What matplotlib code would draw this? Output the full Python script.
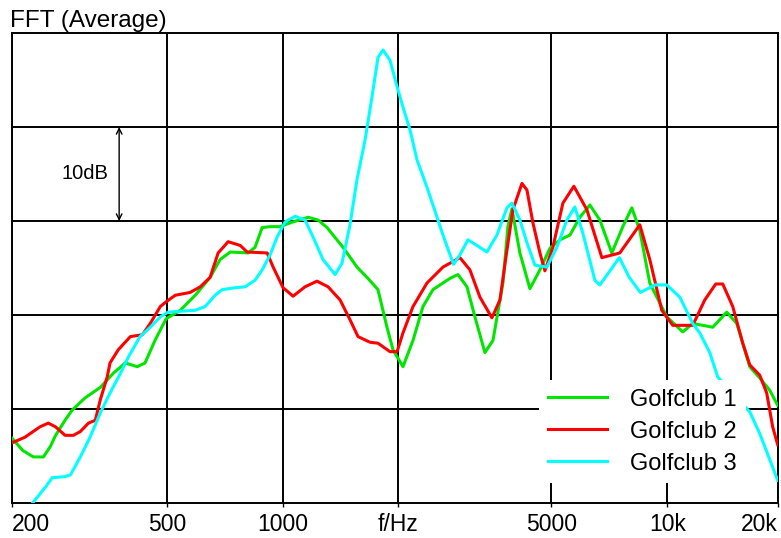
import matplotlib
matplotlib.use('Agg')
import matplotlib.pyplot as plt

# frequencies (Hz) and levels (dB)
freq_1 = [198, 211, 225, 239, 249, 257, 272, 284, 307, 336, 363, 390, 419, 439,
          466, 481, 498, 542, 593, 648, 688, 731, 814, 848, 885, 928, 985, 1046,
          1165, 1237, 1305, 1436, 1561, 1658, 1770, 1868, 1937, 2056, 2183, 2317,
          2460, 2724, 2857, 3015, 3162, 3357, 3523, 3739, 3852, 3946, 4139, 4395,
          4666, 4954, 5259, 5584, 5927, 6292, 6680, 7175, 7663, 8087, 8483, 9006,
          9970, 10972, 11648, 13130, 14275, 15155, 15898, 16381, 17389, 18461, 19364]
level_1 = [6.9, 5.6, 4.9, 4.9, 6.0, 7.2, 8.8, 9.9, 11.2, 12.3, 13.8, 14.9, 14.5, 14.9,
           17.3, 18.4, 19.6, 20.5, 22.1, 24.0, 25.9, 26.7, 26.6, 27.2, 29.3, 29.4, 29.4, 29.8,
           30.4, 30.1, 29.3, 27.2, 25.1, 24.0, 22.7, 18.7, 16.3, 14.5, 17.3, 20.9,
           22.7, 23.9, 24.3, 23.0, 19.8, 16.0, 17.3, 23.4, 29.4, 31.3, 26.6, 22.8,
           24.8, 27.1, 28.0, 28.5, 30.4, 31.7, 30.1, 26.6, 29.4, 31.4, 29.0, 23.4,
           19.8, 18.2, 19.1, 18.7, 20.3, 19.1, 16.3, 14.5, 13.3, 12.0, 10.4]

freq_2 = [198, 214, 234, 246, 257, 272, 286, 298, 313, 326, 336, 350, 356, 374,
          402, 432, 453, 481, 498, 526, 575, 611, 648, 680, 722, 776, 809, 912,
          945, 1003, 1065, 1144, 1229, 1313, 1411, 1497, 1571, 1688, 1770, 1902,
          1984, 2056, 2183, 2373, 2612, 2891, 3069, 3258, 3501, 3673, 3830, 3970,
          4190, 4317, 4475, 4666, 4807, 5042, 5354, 5717, 6180, 6761, 7527, 8483,
          9006, 9676, 10335, 11648, 12516, 13366, 13938, 14797, 15709, 16381,
          17389, 18133, 18793, 19364]
level_2 = [6.4, 7.0, 8.1, 8.5, 8.1, 7.2, 7.2, 7.6, 8.5, 8.8, 11.0, 13.4, 14.9, 16.3,
           17.7, 17.9, 19.1, 20.9, 21.4, 22.1, 22.4, 23.0, 24.0, 26.6, 27.8, 27.4, 26.7, 26.6,
           25.1, 22.9, 22.0, 23.0, 23.6, 23.0, 21.6, 19.5, 17.7, 17.1, 17.0, 16.1,
           16.1, 18.1, 20.9, 23.4, 25.1, 26.1, 24.8, 21.9, 19.7, 21.6, 26.9, 31.2,
           34.0, 33.3, 29.8, 26.6, 24.7, 27.2, 31.9, 33.7, 31.2, 26.1, 26.6, 29.6,
           25.9, 20.5, 18.9, 18.9, 21.6, 23.3, 23.3, 20.9, 17.0, 14.7,
           13.6, 11.7, 8.1, 6.2]

freq_3 = [224, 242, 252, 272, 281, 298, 316, 336, 356, 379, 397, 426, 453, 481,
          504, 542, 593, 629, 668, 697, 753, 799, 848, 885, 928, 968, 1015, 1078,
          1144, 1200, 1274, 1369, 1427, 1497, 1561, 1638, 1708, 1770, 1824, 1902,
          1984, 2056, 2144, 2236, 2373, 2460, 2612, 2781, 2891, 3033, 3200, 3398,
          3607, 3830, 3946, 4139, 4317, 4528, 4864, 5164, 5483, 5751, 6033, 6483,
          6680, 7505, 7967, 8508, 9307, 9970, 10777, 11648, 12146, 12895, 13527,
          16381, 17389, 18793, 19364]
level_3 = [0.0, 1.7, 2.7, 2.8, 3.0, 4.9, 7.0, 9.6, 11.7, 13.8, 15.5, 17.7, 18.7, 19.8,
           20.3, 20.4, 20.5, 20.9, 22.1, 22.7, 22.9, 23.0, 23.7, 24.8, 26.4, 28.3, 29.9, 30.5,
           30.1, 28.3, 25.9, 24.3, 25.5, 29.6, 34.4, 38.6, 43.2, 47.4, 48.2, 47.1,
           44.3, 42.1, 39.7, 36.5, 33.6, 31.7, 28.5, 25.4, 26.4, 28.0, 27.4, 26.7,
           28.5, 31.4, 31.9, 30.1, 27.7, 25.3, 25.1, 27.2, 30.1, 31.5, 28.7, 23.7,
           23.2, 26.1, 24.0, 22.4, 23.2, 23.2, 21.9, 19.1, 18.1, 16.0, 13.4,
           9.7, 7.4, 3.8, 2.4]

series_names = ['Golfclub 1', 'Golfclub 2', 'Golfclub 3']
series_colors = ['#00e600', '#ff0000', '#00ffff']

tick_pos = [198, 500, 1000, 2000, 5000, 10000, 19400]
tick_labels = ['200', '500', '1000', 'f/Hz', '5000', '10k', '20k']


def draw_fft():
    plt.rcParams['font.family'] = ['Liberation Sans', 'DejaVu Sans']
    fig = plt.figure(figsize=(7.81, 5.38), dpi=100)
    ax = fig.add_axes([12 / 781, 1 - 503 / 538, 766 / 781, 470 / 538])

    for f, lv, name, c in zip([freq_1, freq_2, freq_3],
                              [level_1, level_2, level_3],
                              series_names, series_colors):
        ax.plot(f, lv, color=c, lw=2.2, label=name, zorder=3)

    ax.set_xscale('log')
    ax.set_xlim(198, 19400)
    ax.set_ylim(0, 50)
    ax.set_xticks(tick_pos)
    ax.set_xticklabels(tick_labels)
    ax.minorticks_off()
    ax.set_yticks([10, 20, 30, 40])
    ax.tick_params(axis='y', left=False, labelleft=False)
    ax.tick_params(axis='x', length=3, width=1, pad=4, labelsize=16.5,
                   color='black')
    lbls = ax.get_xticklabels()
    lbls[0].set_ha('left')
    lbls[-1].set_ha('right')
    ax.grid(True, color='black', lw=1.4, zorder=1)
    for s in ax.spines.values():
        s.set_color('black')
        s.set_linewidth(1.4)

    # 10 dB scale marker
    ax.annotate('', xy=(376, 40), xytext=(376, 30),
                arrowprops=dict(arrowstyle='<->', color='black', lw=1,
                                shrinkA=0, shrinkB=0))
    ax.text(307, 35, '10dB', ha='center', va='center', fontsize=14.5)

    fig.text(10 / 781, 1 - 27 / 538, 'FFT (Average)', ha='left',
             va='baseline', fontsize=17.5)

    ax.legend(loc='upper left', bbox_to_anchor=(539 / 781, 1 - 380 / 538),
              bbox_transform=fig.transFigure, frameon=True, fancybox=False,
              edgecolor='none', facecolor='white', framealpha=1,
              borderpad=0.37, borderaxespad=0, handlelength=2.5,
              handletextpad=1.0, labelspacing=0.42, fontsize=17)

    fig.savefig('out.png', dpi=100)


if __name__ == '__main__':
    draw_fft()
